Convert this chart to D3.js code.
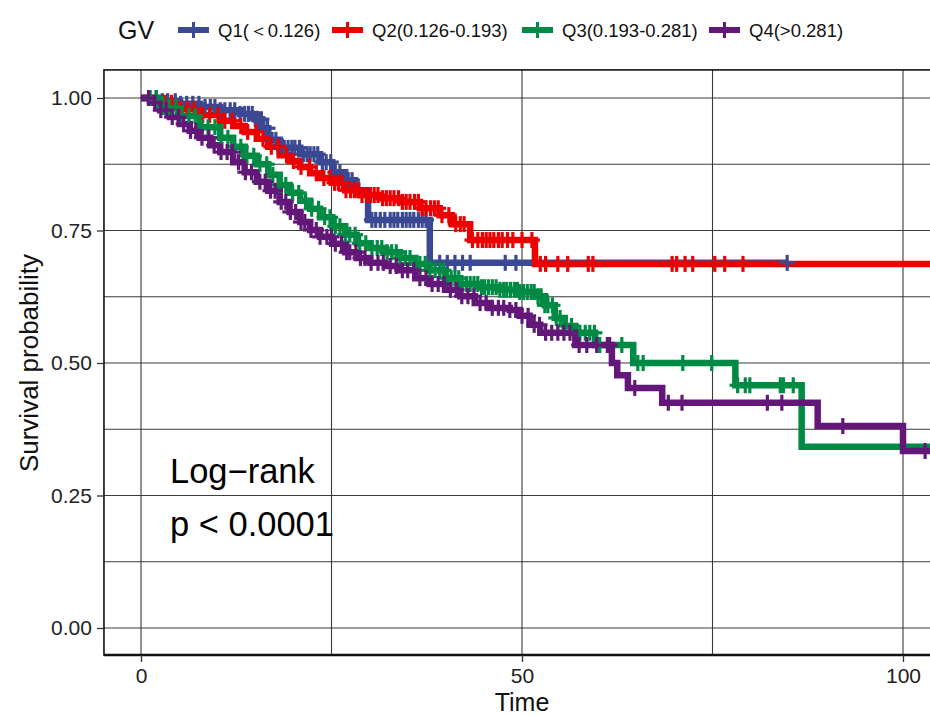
<!DOCTYPE html>
<html><head><meta charset="utf-8">
<script src="https://cdn.jsdelivr.net/npm/d3@7"></script>
<style>body{margin:0;background:#fff;} svg{display:block;}</style>
</head><body>
<svg id="chart" width="930" height="717"></svg>
<script>
// ---------- data ----------
const legendTitle = "GV";
const groups = ["Q1(\uFF1C0.126)", "Q2(0.126-0.193)", "Q3(0.193-0.281)", "Q4(>0.281)"];
const colors = ["#3B4992", "#EE0000", "#008B45", "#631879"];
const xMajorTicks = [0, 50, 100];
const xMinorTicks = [25, 75];
const yMajorTicks = [0, 0.25, 0.5, 0.75, 1];
const yMinorTicks = [0.125, 0.375, 0.625, 0.875];

const q1Time = [0,2.5,5.1,7.7,10.4,13.0,15.0,15.9,16.7,18.2,20.9,23.5,25.1,26.8,28.1,29.8,37.9,84.8];
const q1Surv = [1,0.994,0.989,0.983,0.977,0.970,0.960,0.943,0.921,0.906,0.894,0.879,0.860,0.845,0.826,0.770,0.689,0.689];
const q1Cens = [2.0,2.8,3.5,4.5,5.2,6.0,6.8,7.6,8.4,9.1,9.7,10.4,11.0,11.7,12.3,13.0,13.6,14.1,14.6,15.0,15.4,15.8,16.1,16.6,17.2,17.7,18.2,18.8,19.3,19.8,20.2,20.8,21.3,21.8,22.2,22.7,23.2,23.8,24.3,24.9,25.5,26.1,26.8,27.2,27.7,28.6,30.3,30.8,31.4,32.0,32.7,33.2,33.7,34.3,34.8,35.3,35.8,36.4,36.9,37.4,39.2,40.2,41.2,42.2,43.2,47.8,49.2,84.8];

const q2Time = [0,2.5,5.1,7.7,10.4,12.1,13.6,15.2,16.7,18.2,19.5,20.9,22.2,23.5,25.1,26.8,28.7,31.4,34.0,36.6,39.2,40.8,43.2,51.7,105];
const q2Surv = [1,0.991,0.979,0.968,0.957,0.947,0.936,0.923,0.908,0.892,0.881,0.870,0.858,0.849,0.840,0.826,0.817,0.811,0.804,0.792,0.779,0.762,0.732,0.687,0.687];
const q2Cens = [3.1,4.0,5.2,6.1,7.0,8.1,9.0,10.1,11.0,12.0,13.1,14.0,15.1,16.0,17.1,18.0,19.1,20.0,21.0,22.1,23.0,24.0,24.8,25.4,25.9,26.4,26.9,27.5,28.0,28.5,29.0,29.6,30.1,30.6,31.1,31.7,32.2,32.7,33.2,33.8,34.3,34.8,35.3,35.9,36.4,36.9,37.4,38.0,38.5,39.0,39.5,40.4,41.3,41.9,42.4,43.5,44.2,44.8,45.3,45.8,46.3,46.9,47.4,48.1,48.8,50.0,51.3,52.4,53.1,54.7,56.0,58.7,59.3,69.7,70.3,71.4,72.4,75.3,76.6,79.0];

const q3Time = [0,2.5,5.1,7.7,10.4,12.1,13.6,15.2,16.7,18.2,19.5,20.9,22.2,23.5,25.1,26.8,28.3,30.1,32.0,34.0,36.0,37.9,39.9,41.9,44.5,47.1,49.7,51.7,53.0,54.3,55.6,57.0,59.6,64.6,78.0,86.7,105];
const q3Surv = [1,0.983,0.966,0.945,0.925,0.908,0.891,0.875,0.855,0.836,0.821,0.806,0.791,0.775,0.758,0.742,0.726,0.717,0.709,0.698,0.687,0.675,0.660,0.649,0.643,0.638,0.634,0.626,0.609,0.585,0.570,0.557,0.534,0.500,0.458,0.342,0.342];
const q3Cens = [1.2,2.0,2.9,3.7,4.6,5.4,6.3,7.1,8.0,8.8,9.7,10.5,11.4,12.2,13.1,13.9,14.8,15.6,16.5,17.3,18.2,19.0,19.9,20.7,21.6,22.4,23.3,24.1,24.8,25.5,26.1,26.8,27.4,28.1,28.7,29.5,30.3,31.0,31.6,32.3,32.9,33.5,34.0,34.7,35.3,36.0,36.6,37.3,37.9,38.6,39.2,39.7,40.2,40.7,41.2,41.7,42.1,42.7,43.2,43.7,44.2,44.7,45.1,45.6,46.1,46.6,47.1,47.6,48.0,48.5,49.0,49.4,49.7,50.2,50.7,51.2,51.6,52.1,52.5,53.0,53.4,54.0,54.5,55.0,55.6,56.5,57.6,58.3,58.9,59.5,60.2,63.1,65.2,65.9,71.1,74.9,78.3,79.3,79.9,83.9,84.3,85.6];

const q4Time = [0,1.2,2.5,3.8,5.1,6.4,7.7,9.1,10.4,12.1,13.6,15.2,16.7,18.2,19.5,20.9,22.2,23.5,25.1,26.8,28.3,30.1,32.0,34.0,36.0,37.9,39.9,41.9,43.8,45.8,48.4,49.7,51.0,52.4,57.0,61.8,62.5,63.9,68.4,88.8,100.0,105];
const q4Surv = [1,0.991,0.977,0.964,0.951,0.938,0.925,0.911,0.898,0.879,0.860,0.842,0.825,0.804,0.785,0.766,0.751,0.738,0.725,0.709,0.698,0.689,0.683,0.675,0.660,0.649,0.638,0.626,0.613,0.604,0.600,0.589,0.572,0.557,0.534,0.500,0.477,0.453,0.425,0.381,0.334,0.334];
const q4Cens = [1.0,1.8,2.6,3.3,4.1,4.9,5.6,6.5,7.2,8.0,8.9,9.6,10.5,11.3,12.0,12.8,13.7,14.5,15.6,16.3,17.0,17.6,18.4,19.0,19.6,20.3,21.0,21.5,22.3,23.0,23.5,24.4,25.0,25.5,26.3,27.0,27.4,28.2,28.8,29.4,30.2,31.1,31.8,32.7,33.5,34.3,35.0,35.8,36.6,37.4,38.2,39.0,39.8,40.6,41.4,42.1,42.9,43.7,44.5,45.3,46.1,46.9,47.6,48.4,49.2,50.0,50.8,51.6,52.3,53.1,53.9,54.7,55.5,56.3,57.5,58.5,59.8,61.2,61.5,64.8,69.2,71.0,82.2,84.1,92.1,102.9];

const annotation = ["Log\u2212rank", "p < 0.0001"];

// ---------- layout ----------
const svg = d3.select("#chart");
const x = d3.scaleLinear().domain([0, 100]).range([141, 903]);
const y = d3.scaleLinear().domain([0, 1]).range([628, 98]);
const panel = {left: x(-4.86), right: 945, top: y(1.053), bottom: y(-0.051)};
const font = "Liberation Sans, Arial, sans-serif";

const series = [
  {t: q1Time, s: q1Surv, c: q1Cens},
  {t: q2Time, s: q2Surv, c: q2Cens},
  {t: q3Time, s: q3Surv, c: q3Cens},
  {t: q4Time, s: q4Surv, c: q4Cens}
];

svg.append("defs").append("clipPath").attr("id", "clip")
  .append("rect").attr("x", panel.left).attr("y", panel.top)
  .attr("width", panel.right - panel.left).attr("height", panel.bottom - panel.top);

// grid
const grid = svg.append("g").attr("stroke", "#3a3a3a").attr("stroke-width", 1.1);
[...yMajorTicks, ...yMinorTicks].forEach(v => {
  grid.append("line").attr("x1", panel.left).attr("x2", panel.right)
    .attr("y1", y(v)).attr("y2", y(v));
});
[...xMajorTicks, ...xMinorTicks].forEach(v => {
  grid.append("line").attr("y1", panel.top).attr("y2", panel.bottom)
    .attr("x1", x(v)).attr("x2", x(v));
});

// curves
const plot = svg.append("g").attr("clip-path", "url(#clip)");
const line = d3.line().x(d => x(d[0])).y(d => y(d[1])).curve(d3.curveStepAfter);
series.forEach((sr, i) => {
  const pts = sr.t.map((t, k) => [t, sr.s[k]]);
  plot.append("path").attr("d", line(pts)).attr("fill", "none")
    .attr("stroke", colors[i]).attr("stroke-width", 6.5).attr("stroke-linejoin", "miter");
});
function survAt(sr, t) {
  let v = sr.s[0];
  for (let k = 0; k < sr.t.length; k++) { if (sr.t[k] <= t) v = sr.s[k]; }
  return v;
}
const ms = 8;
series.forEach((sr, i) => {
  sr.c.forEach(t => {
    const cx = x(t), cy = y(survAt(sr, t));
    const g = plot.append("g").attr("stroke", colors[i]).attr("stroke-width", 3.2);
    g.append("line").attr("x1", cx - ms).attr("x2", cx + ms).attr("y1", cy).attr("y2", cy);
    g.append("line").attr("x1", cx).attr("x2", cx).attr("y1", cy - ms).attr("y2", cy + ms);
  });
});

// panel border
svg.append("rect").attr("x", panel.left).attr("y", panel.top)
  .attr("width", panel.right - panel.left).attr("height", panel.bottom - panel.top)
  .attr("fill", "none").attr("stroke", "#111").attr("stroke-width", 1.6);
svg.append("line").attr("x1", panel.left).attr("x2", panel.right)
  .attr("y1", panel.bottom).attr("y2", panel.bottom).attr("stroke", "#111").attr("stroke-width", 2.4);

// axes
const yAxis = d3.axisLeft(y).tickValues(yMajorTicks).tickFormat(d3.format(".2f")).tickSize(7).tickPadding(5);
const ya = svg.append("g").attr("transform", `translate(${panel.left},0)`).call(yAxis);
ya.select(".domain").remove();
ya.selectAll("line").attr("stroke", "#333").attr("stroke-width", 1.3);
ya.selectAll("text").attr("font-family", font).attr("font-size", 21).attr("fill", "#222");

const xAxis = d3.axisBottom(x).tickValues(xMajorTicks).tickFormat(d3.format("d")).tickSize(7).tickPadding(6);
const xa = svg.append("g").attr("transform", `translate(0,${panel.bottom})`).call(xAxis);
xa.select(".domain").remove();
xa.selectAll("line").attr("stroke", "#333").attr("stroke-width", 1.3);
xa.selectAll("text").attr("font-family", font).attr("font-size", 21).attr("fill", "#222");

svg.append("text").attr("x", x(50)).attr("y", 711).attr("text-anchor", "middle")
  .attr("font-family", font).attr("font-size", 25).attr("fill", "#111").text("Time");
svg.append("text").attr("transform", `translate(38,${y(0.5)}) rotate(-90)`).attr("text-anchor", "middle")
  .attr("font-family", font).attr("font-size", 26).attr("fill", "#111").text("Survival probability");

// annotation
svg.append("text").attr("x", x(3.8)).attr("y", 483).attr("font-family", font)
  .attr("font-size", 34.5).attr("fill", "#000").text(annotation[0]);
svg.append("text").attr("x", x(3.8)).attr("y", 536).attr("font-family", font)
  .attr("font-size", 34.5).attr("fill", "#000").text(annotation[1]);

// legend
const leg = svg.append("g");
leg.append("text").attr("x", 118).attr("y", 39).attr("font-family", font)
  .attr("font-size", 25).attr("fill", "#111").text(legendTitle);
const keyX = [178, 332, 522, 709];
groups.forEach((g, i) => {
  const kx = keyX[i], ky = 30;
  leg.append("line").attr("x1", kx).attr("x2", kx + 31).attr("y1", ky).attr("y2", ky)
    .attr("stroke", colors[i]).attr("stroke-width", 6);
  leg.append("line").attr("x1", kx + 15.5).attr("x2", kx + 15.5).attr("y1", ky - 8).attr("y2", ky + 8)
    .attr("stroke", colors[i]).attr("stroke-width", 3);
  leg.append("line").attr("x1", kx + 8).attr("x2", kx + 23).attr("y1", ky).attr("y2", ky)
    .attr("stroke", colors[i]).attr("stroke-width", 3);
  leg.append("text").attr("x", kx + 40).attr("y", ky + 7).attr("font-family", font)
    .attr("font-size", 18.5).attr("fill", "#111").text(g);
});
</script>
</body></html>
